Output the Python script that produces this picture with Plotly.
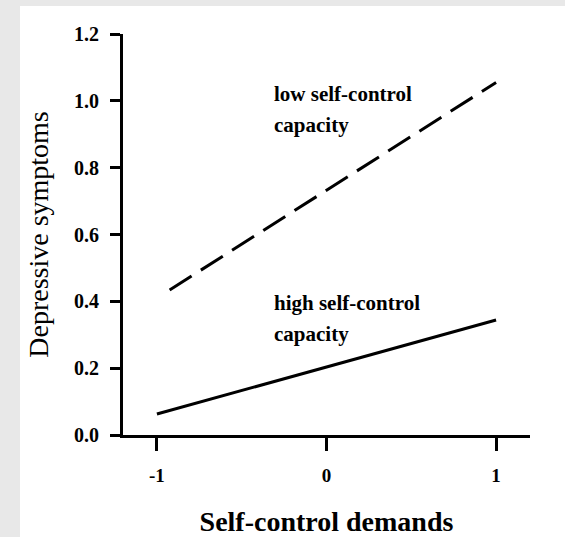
import plotly.graph_objects as go

# Data
x_high = [-1, 1]
y_high = [0.063, 0.344]
x_low = [-0.925, 1]
y_low = [0.434, 1.055]

x_ticks = [-1, 0, 1]
x_tick_labels = ["-1", "0", "1"]
y_ticks = [0.0, 0.2, 0.4, 0.6, 0.8, 1.0, 1.2]
y_tick_labels = ["0.0", "0.2", "0.4", "0.6", "0.8", "1.0", "1.2"]

low_label = ["low self-control", "capacity"]
high_label = ["high self-control", "capacity"]

SERIF = "Liberation Serif"
GRAY = "#e8e8e8"

fig = go.Figure()
fig.add_trace(go.Scatter(x=x_high, y=y_high, mode="lines",
                         line=dict(color="black", width=3), showlegend=False))
fig.add_trace(go.Scatter(x=x_low, y=y_low, mode="lines",
                         line=dict(color="black", width=3, dash="26px,11px"), showlegend=False))

ann = []
for i, t in enumerate(low_label):
    ann.append(dict(x=-0.324, y=[1.02, 0.927][i], text="<b>" + t + "</b>", showarrow=False,
                    xanchor="left", yanchor="middle",
                    font=dict(family=SERIF, size=21, color="black")))
for i, t in enumerate(high_label):
    ann.append(dict(x=-0.324, y=[0.395, 0.302][i], text="<b>" + t + "</b>", showarrow=False,
                    xanchor="left", yanchor="middle",
                    font=dict(family=SERIF, size=21, color="black")))

fig.update_layout(
    width=565, height=537,
    margin=dict(l=123, r=35, t=34, b=102),
    font=dict(family=SERIF, color="black"),
    paper_bgcolor="white",
    plot_bgcolor="white",
    annotations=ann,
    shapes=[
        dict(type="rect", xref="paper", yref="paper",
             x0=-0.32, x1=-0.253, y0=-0.3, y1=1.2,
             fillcolor=GRAY, line=dict(width=0), layer="below"),
        dict(type="rect", xref="paper", yref="paper",
             x0=-0.32, x1=1.2, y0=1.07, y1=1.2,
             fillcolor=GRAY, line=dict(width=0), layer="below"),
    ],
    xaxis=dict(range=[-1.2, 1.2], tickvals=x_ticks, ticktext=x_tick_labels,
               automargin=False,
               showline=True, linecolor="black", linewidth=3,
               ticks="outside", ticklen=13, tickwidth=3, tickcolor="black",
               showgrid=False, zeroline=False, ticklabelstandoff=8,
               tickfont=dict(family=SERIF, size=19, color="black", weight="bold"),
               title=dict(text="Self-control demands", standoff=27,
                          font=dict(family=SERIF, size=28, color="black", weight="bold"))),
    yaxis=dict(range=[0, 1.2], tickvals=y_ticks, ticktext=y_tick_labels,
               automargin=False,
               showline=True, linecolor="black", linewidth=3,
               ticks="outside", ticklen=10, tickwidth=3, tickcolor="black",
               showgrid=False, zeroline=False, ticklabelstandoff=7,
               tickfont=dict(family=SERIF, size=20, color="black", weight="bold"),
               title=dict(text="Depressive symptoms", standoff=18,
                          font=dict(family=SERIF, size=28, color="black"))),
)

fig.write_html("out.html",
               config={"displayModeBar": False},
               post_script="document.body.style.margin='0px';document.body.style.overflow='hidden';")
